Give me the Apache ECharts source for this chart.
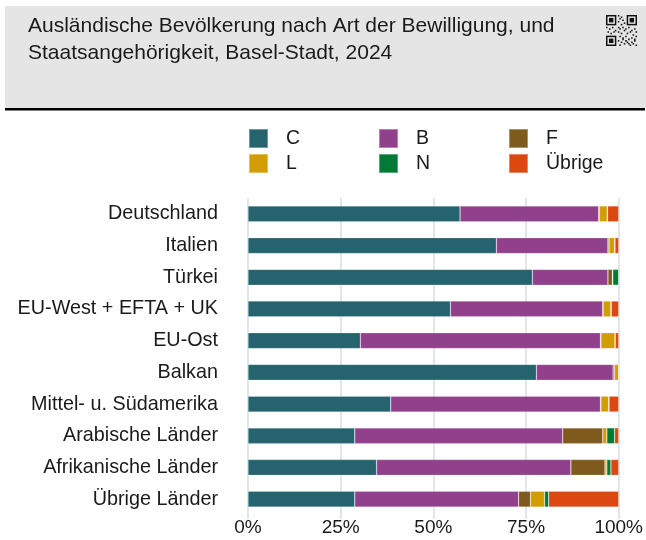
<!DOCTYPE html>
<html>
<head>
<meta charset="utf-8">
<script src="https://cdn.jsdelivr.net/npm/echarts@6/dist/echarts.min.js"></script>
<style>
html,body{margin:0;padding:0;background:#fff;}
#chart{width:646px;height:540px;}
</style>
</head>
<body>
<div id="chart"></div>
<script>
const categories = ['Deutschland','Italien','Türkei','EU-West + EFTA + UK','EU-Ost','Balkan','Mittel- u. Südamerika','Arabische Länder','Afrikanische Länder','Übrige Länder'];
const seriesNames = ['C','B','F','L','N','Übrige'];
const valC = [57.2, 67.0, 76.7, 54.6, 30.3, 77.8, 38.5, 28.8, 34.7, 28.8];
const valB = [37.4, 30.1, 20.4, 41.1, 64.8, 20.7, 56.6, 56.1, 52.4, 44.2];
const valF = [0.2, 0.3, 1.2, 0.1, 0.1, 0.4, 0.1, 10.8, 9.2, 3.2];
const valL = [2.1, 1.5, 0.1, 2.1, 3.8, 1.1, 2.1, 1.1, 0.5, 3.8];
const valN = [0.1, 0.1, 1.6, 0.1, 0.1, 0.0, 0.1, 2.1, 1.1, 1.1];
const valU = [3.0, 1.0, 0.0, 2.0, 0.9, 0.0, 2.6, 1.1, 2.1, 18.9];
const xTicks = [0, 25, 50, 75, 100];
const colors = ['#25636e','#91418c','#7e5b1c','#d19d00','#007a35','#dc4712'];
const title = 'Ausländische Bevölkerung nach Art der Bewilligung, und\nStaatsangehörigkeit, Basel-Stadt, 2024';

const values = [valC, valB, valF, valL, valN, valU];
const FONT = '"Liberation Sans", Arial, sans-serif';

const legendPos = [[248,128],[378,128],[508,128],[248,153],[378,153],[508,153]];
const legends = seriesNames.map((n,i)=>({
  data:[n], left:legendPos[i][0], top:legendPos[i][1], padding:0,
  icon:'rect', itemWidth:19, itemHeight:19, selectedMode:false,
  textStyle:{fontFamily:FONT, fontSize:19.5, color:'#1a1a1a', padding:[0,0,0,13]}
}));

// QR-like decorative icon
const qr = [];
const qx = 606, qy = 15, cell = 31/21;
function finder(cx, cy){
  qr.push({type:'rect', shape:{x:qx+cx*cell, y:qy+cy*cell, width:7*cell, height:7*cell}, style:{fill:'#111'}});
  qr.push({type:'rect', shape:{x:qx+(cx+1)*cell, y:qy+(cy+1)*cell, width:5*cell, height:5*cell}, style:{fill:'#e5e5e5'}});
  qr.push({type:'rect', shape:{x:qx+(cx+2)*cell, y:qy+(cy+2)*cell, width:3*cell, height:3*cell}, style:{fill:'#111'}});
}
finder(0,0); finder(14,0); finder(0,14);
const mods = [[8,0],[10,1],[9,2],[11,3],[8,4],[12,5],[10,6],[0,8],[2,9],[4,8],[6,10],[1,11],[3,12],[5,11],[8,8],[9,9],[11,8],[13,9],[15,8],[17,10],[19,9],[20,11],[8,11],[10,12],[12,10],[14,12],[16,11],[18,13],[20,14],[9,14],[11,15],[13,14],[15,16],[17,15],[19,17],[8,17],[10,18],[12,19],[14,18],[16,20],[18,19],[20,20],[9,20],[11,16],[13,17],[15,19],[17,18],[19,16]];
mods.forEach(m=>qr.push({type:'rect', shape:{x:qx+m[0]*cell, y:qy+m[1]*cell, width:cell*1.05, height:cell*1.05}, style:{fill:'#111'}}));

const chart = echarts.init(document.getElementById('chart'), null, {renderer:'canvas'});
chart.setOption({
  animation:false,
  backgroundColor:'#ffffff',
  color: colors,
  title:{
    text:title, left:28, top:12, padding:0,
    textStyle:{fontFamily:FONT, fontSize:21, fontWeight:'normal', color:'#1a1a1a', lineHeight:27.5}
  },
  graphic:[
    {type:'rect', z:-10, shape:{x:5, y:6, width:641, height:102}, style:{fill:'#e5e5e5'}},
    {type:'rect', z:-9, shape:{x:5, y:108, width:640, height:2.5}, style:{fill:'#000'}},
    {type:'group', z:5, children: qr}
  ],
  legend: legends,
  grid:{left:248, right:27, top:198, bottom:25, containLabel:false},
  xAxis:{
    type:'value', min:0, max:100, interval:25,
    axisLabel:{fontFamily:FONT, fontSize:19, color:'#1a1a1a', margin:3, formatter: v => xTicks.includes(v) ? v + '%' : ''},
    axisLine:{show:false},
    axisTick:{show:true, length:4, lineStyle:{color:'#d3dfe5', width:1.5}},
    splitLine:{show:true, lineStyle:{color:'#d3dfe5', width:1.5}}
  },
  yAxis:{
    type:'category', data:categories, inverse:true,
    axisLine:{show:false}, axisTick:{show:false},
    axisLabel:{fontFamily:FONT, fontSize:19.8, color:'#1a1a1a', margin:30}
  },
  series: seriesNames.map((n,i)=>({
    name:n, type:'bar', stack:'total', barWidth:'50%',
    data: values[i],
    itemStyle:{color:colors[i], borderColor:'rgba(255,255,255,0.35)', borderWidth:0.6}
  }))
});
</script>
</body>
</html>
